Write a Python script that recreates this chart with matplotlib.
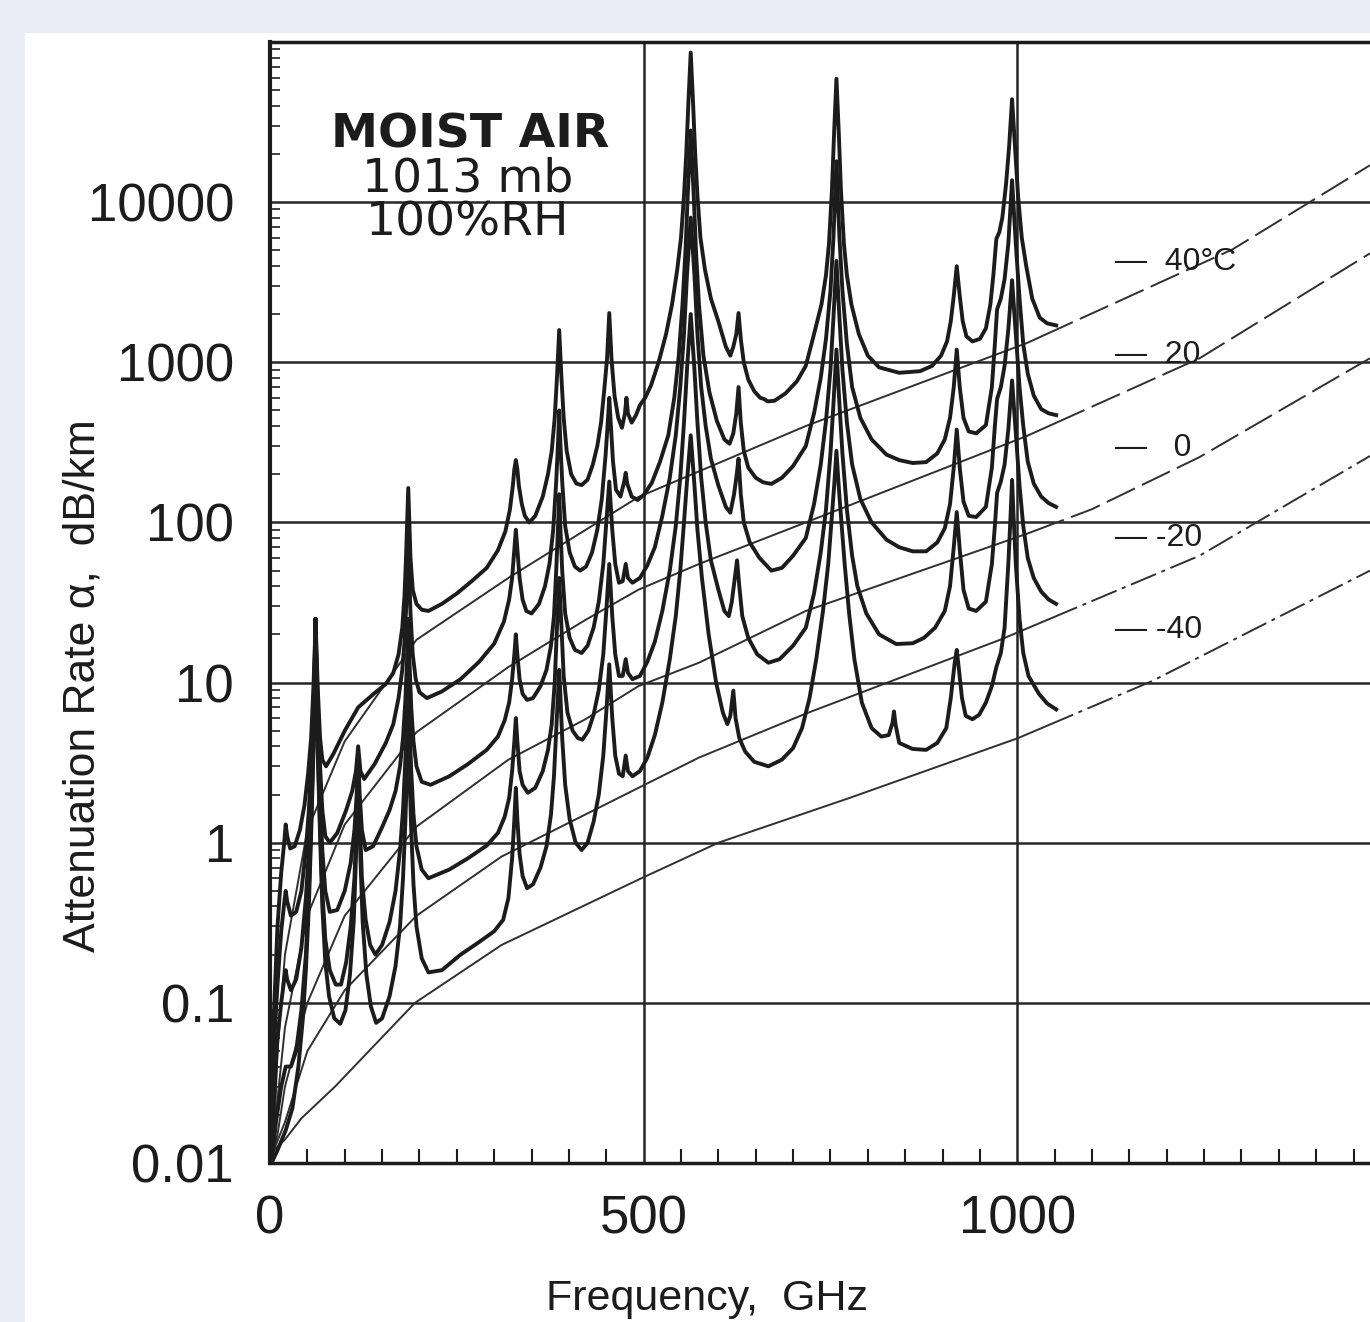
import matplotlib
matplotlib.use('Agg')
import matplotlib.pyplot as plt
from matplotlib.ticker import LogLocator, MultipleLocator, NullFormatter
from matplotlib.patches import Rectangle
from matplotlib.transforms import blended_transform_factory

# attenuation of moist air (1013 mb, 100% RH)
# resonance curves as (frequency GHz, attenuation dB/km)
res_40 = [(2, 0.012), (5, 0.08), (10, 0.3), (15, 0.65), (19, 1.0), (21, 1.3), (23, 1.1), (27, 0.92),
          (33, 0.95), (40, 1.2), (46, 1.7), (51, 2.7), (55, 4.5), (58, 9), (60, 17), (61, 25),
          (62, 17), (64, 9), (67, 4.5), (70, 3.3), (75, 3.0), (85, 3.6), (100, 5.0), (118, 7.0),
          (140, 8.6), (155, 9.8), (165, 11.5), (172, 15), (177, 22), (180, 35), (182, 60),
          (183.5, 100), (185, 164), (186.5, 100), (188, 60), (191, 38), (196, 31), (203, 28.5),
          (212, 28), (230, 31), (250, 36), (270, 43), (290, 52), (305, 67), (315, 88), (321, 120),
          (325, 170), (327, 215), (329, 245), (331, 215), (333, 170), (337, 130), (341, 110),
          (347, 100), (355, 110), (365, 145), (372, 200), (377, 280), (381, 450), (384, 800),
          (387, 1590), (390, 800), (393, 450), (397, 280), (403, 200), (410, 175), (417, 171),
          (425, 185), (432, 230), (438, 300), (443, 420), (447, 650), (451, 1050), (454, 2030),
          (457, 1050), (461, 620), (466, 450), (471, 390), (475, 480), (477, 600), (479, 480),
          (484, 420), (490, 470), (495, 540), (502, 600), (510, 720), (520, 1000), (530, 1500),
          (538, 2300), (545, 3800), (550, 6000), (554, 11000), (557, 20000), (560, 43000),
          (563, 86000), (566, 43000), (569, 20000), (572, 11000), (576, 6000), (582, 3800),
          (590, 2500), (600, 1800), (610, 1250), (616, 1100), (620, 1250), (624, 1500), (627, 2030),
          (630, 1400), (634, 1000), (640, 780), (648, 660), (656, 600), (661, 590), (666, 570),
          (675, 575), (690, 640), (705, 760), (717, 950), (728, 1500), (738, 2300), (744, 3500),
          (748, 5500), (752, 12000), (755, 28000), (758, 59000), (761, 28000), (764, 12000),
          (768, 5500), (772, 3500), (778, 2300), (788, 1500), (800, 1100), (815, 930), (842, 860),
          (870, 880), (886, 950), (898, 1100), (906, 1350), (911, 1800), (915, 2600), (919, 3980),
          (923, 2600), (927, 1800), (932, 1450), (940, 1350), (950, 1400), (958, 1630), (964, 2300),
          (968, 3500), (972, 5900), (976, 6500), (980, 8000), (985, 13000), (989, 22000),
          (993, 43900), (997, 22000), (1001, 11000), (1006, 6000), (1012, 3980), (1020, 2500),
          (1030, 1900), (1040, 1750), (1052, 1700)]

res_20 = [(2, 0.011), (5, 0.05), (10, 0.13), (15, 0.28), (19, 0.42), (21, 0.5), (23, 0.43), (28, 0.35),
          (35, 0.37), (42, 0.5), (48, 0.9), (52, 1.6), (55, 3), (58, 7), (60, 15), (61, 25),
          (62, 15), (64, 7), (67, 3), (70, 1.6), (74, 1.1), (80, 1.0), (90, 1.15), (102, 1.6),
          (110, 2.1), (115, 2.8), (118, 4.0), (121, 2.8), (126, 2.5), (140, 3.1), (155, 4.2),
          (165, 5.5), (172, 8), (177, 12), (180, 18), (182, 28), (183.5, 45), (185, 70),
          (186.5, 45), (188, 27), (191, 15), (195, 10.5), (200, 8.7), (210, 8.0), (230, 8.8),
          (255, 10.5), (280, 13.5), (300, 17.5), (313, 24), (320, 33), (324, 45), (327, 68),
          (329, 90), (331, 68), (334, 45), (338, 33), (343, 28), (350, 27), (360, 31), (368, 40),
          (374, 55), (379, 90), (383, 180), (385.5, 320), (387, 500), (388.5, 320), (391, 180),
          (395, 95), (401, 65), (408, 53), (415, 50), (423, 53), (431, 65), (438, 90), (444, 140),
          (449, 260), (452, 420), (454, 600), (456, 420), (459, 240), (463, 160), (469, 145),
          (474, 180), (476, 204), (478, 175), (484, 145), (492, 138), (500, 148), (511, 177),
          (522, 240), (533, 350), (541, 600), (547, 1100), (552, 2300), (556, 5000), (559, 11000),
          (563, 28000), (567, 11000), (570, 5000), (574, 2300), (580, 1100), (588, 650), (598, 430),
          (608, 330), (615, 310), (620, 360), (624, 480), (627, 700), (630, 420), (634, 280),
          (640, 220), (650, 190), (660, 178), (671, 174), (685, 190), (700, 225), (717, 300),
          (728, 480), (737, 800), (744, 1400), (750, 2800), (754, 6000), (758, 18000), (762, 6000),
          (766, 2800), (772, 1300), (779, 700), (790, 450), (805, 330), (825, 265), (842, 245),
          (860, 235), (878, 238), (893, 270), (903, 330), (910, 450), (915, 700), (919, 1200),
          (923, 700), (928, 450), (935, 370), (945, 360), (958, 405), (966, 700), (970, 1300),
          (973, 2140), (978, 2500), (983, 3300), (988, 5500), (993, 13700), (998, 5500),
          (1003, 2500), (1008, 1300), (1014, 850), (1022, 620), (1032, 510), (1042, 480),
          (1052, 468)]

res_0 = [(2, 0.01), (5, 0.025), (10, 0.06), (15, 0.1), (19, 0.14), (21, 0.16), (23, 0.14), (28, 0.12),
         (35, 0.14), (42, 0.22), (48, 0.45), (52, 0.9), (55, 2), (58, 5), (60, 13), (61, 25),
         (62, 13), (64, 5), (67, 2), (70, 0.9), (74, 0.5), (80, 0.37), (90, 0.38), (100, 0.5),
         (108, 0.75), (113, 1.2), (116, 2.0), (118, 3.4), (120, 2.0), (123, 1.2), (128, 0.9),
         (138, 0.95), (150, 1.25), (160, 1.6), (168, 2.1), (174, 3.0), (178, 4.5), (181, 7.5),
         (183.5, 14), (185, 25), (186.5, 14), (189, 7), (192, 4.3), (196, 3.0), (203, 2.4),
         (215, 2.3), (240, 2.6), (265, 3.1), (290, 3.8), (305, 4.6), (314, 5.8), (320, 7.5),
         (324, 10.5), (327, 15), (329, 20), (331, 15), (334, 10.5), (338, 8.5), (344, 7.8),
         (352, 8), (362, 9.5), (370, 12), (376, 17), (380, 26), (383, 50), (385.5, 95), (387, 150),
         (388.5, 95), (391, 50), (395, 27), (401, 19), (408, 16), (417, 15.3), (425, 17), (433, 22),
         (440, 32), (446, 55), (450, 100), (454, 180), (458, 90), (462, 55), (467, 42), (472, 43),
         (476, 55), (479, 45), (485, 42), (495, 45), (505, 54), (515, 70), (525, 110), (535, 190),
         (543, 350), (549, 700), (554, 1500), (558, 3500), (563, 8000), (568, 3500), (572, 1500),
         (577, 700), (583, 400), (590, 250), (600, 170), (610, 125), (616, 115), (621, 150),
         (624, 190), (627, 250), (630, 150), (634, 100), (642, 75), (655, 60), (671, 50), (685, 52),
         (700, 62), (717, 80), (728, 130), (737, 230), (744, 430), (750, 900), (754, 1900),
         (758, 4300), (762, 1900), (766, 900), (772, 420), (779, 230), (790, 140), (805, 100),
         (825, 78), (842, 70), (860, 66), (878, 66), (893, 75), (903, 92), (910, 130), (915, 220),
         (919, 380), (923, 220), (928, 135), (935, 110), (945, 108), (958, 125), (966, 220),
         (970, 400), (973, 590), (978, 700), (983, 950), (988, 1600), (993, 3250), (998, 1500),
         (1003, 700), (1008, 400), (1014, 240), (1022, 175), (1032, 145), (1042, 132), (1052, 125)]

res_m20 = [(2, 0.01), (8, 0.018), (15, 0.03), (21, 0.04), (28, 0.04), (35, 0.05), (42, 0.09),
           (48, 0.2), (52, 0.5), (55, 1.3), (58, 4), (60, 12), (61, 25), (62, 12), (64, 4),
           (67, 1.3), (70, 0.5), (74, 0.25), (80, 0.16), (88, 0.13), (95, 0.13), (102, 0.18),
           (108, 0.3), (113, 0.6), (116, 1.4), (118, 3.4), (120, 1.4), (123, 0.6), (128, 0.33),
           (134, 0.23), (141, 0.2), (150, 0.23), (160, 0.32), (168, 0.5), (174, 0.9), (178, 1.6),
           (181, 3.2), (183.5, 6), (185, 10), (186.5, 6), (189, 2.8), (192, 1.5), (196, 0.95),
           (203, 0.68), (212, 0.6), (240, 0.68), (265, 0.8), (290, 0.96), (305, 1.15), (314, 1.45),
           (320, 1.9), (324, 2.8), (327, 4.3), (329, 6), (331, 4.3), (334, 2.8), (338, 2.3),
           (345, 2.05), (355, 2.2), (365, 2.8), (372, 3.8), (377, 5.5), (381, 10), (384, 22),
           (387, 45), (390, 22), (393, 11), (398, 6.5), (405, 5), (412, 4.5), (418, 4.4), (426, 5),
           (433, 6.3), (440, 9), (446, 15), (450, 28), (454, 55), (458, 26), (462, 15), (467, 11),
           (472, 11), (476, 14), (479, 11.5), (485, 10.5), (495, 11), (505, 13.5), (515, 18),
           (525, 28), (535, 50), (543, 95), (549, 190), (554, 420), (558, 900), (563, 2000),
           (568, 900), (572, 420), (577, 190), (583, 100), (590, 58), (600, 38), (608, 28),
           (614, 26), (618, 32), (622, 45), (625, 58), (628, 40), (632, 26), (640, 19), (652, 15),
           (667, 13.3), (682, 14), (700, 17), (717, 22), (728, 36), (737, 65), (744, 120),
           (750, 270), (754, 550), (758, 1200), (762, 550), (766, 270), (772, 120), (779, 62),
           (786, 40), (798, 27), (815, 20), (838, 17.4), (860, 17.6), (875, 19), (890, 22),
           (903, 28), (910, 40), (915, 70), (919, 116), (923, 68), (928, 38), (935, 29), (945, 28),
           (958, 32), (966, 55), (970, 95), (973, 153), (978, 180), (983, 230), (988, 380),
           (993, 770), (998, 360), (1003, 170), (1008, 95), (1014, 60), (1022, 45), (1032, 37),
           (1042, 33), (1052, 31)]

res_m40 = [(2, 0.01), (10, 0.012), (21, 0.016), (30, 0.022), (38, 0.04), (44, 0.08), (48, 0.16),
           (52, 0.4), (55, 1.1), (58, 3.5), (60, 11), (61, 25), (62, 11), (64, 3.5), (67, 1.1),
           (70, 0.4), (74, 0.18), (79, 0.11), (86, 0.08), (94, 0.074), (101, 0.09), (107, 0.15),
           (112, 0.32), (115, 0.8), (118, 3.4), (121, 0.8), (124, 0.32), (129, 0.15), (135, 0.095),
           (142, 0.075), (150, 0.08), (160, 0.11), (168, 0.17), (174, 0.3), (178, 0.6), (181, 1.3),
           (183.5, 3), (185, 6), (186.5, 3), (189, 1.2), (192, 0.55), (196, 0.3), (203, 0.19),
           (212, 0.155), (230, 0.16), (255, 0.2), (280, 0.24), (300, 0.28), (312, 0.33),
           (319, 0.45), (324, 0.8), (327, 1.4), (329, 2.2), (331, 1.4), (334, 0.85), (338, 0.62),
           (344, 0.52), (352, 0.55), (362, 0.7), (370, 0.95), (376, 1.5), (380, 2.6), (383, 5),
           (385.5, 8.5), (387, 12), (388.5, 8.5), (391, 4.5), (395, 2.3), (401, 1.4), (409, 1.0),
           (417, 0.9), (425, 1.0), (433, 1.35), (440, 2.0), (446, 3.5), (450, 6.5), (454, 13),
           (458, 6), (462, 3.5), (467, 2.7), (472, 2.6), (476, 3.5), (479, 2.8), (485, 2.6),
           (495, 2.8), (505, 3.4), (515, 4.7), (525, 7.5), (535, 14), (543, 26), (549, 50),
           (554, 100), (558, 180), (563, 350), (568, 170), (572, 90), (578, 45), (587, 20),
           (597, 10), (606, 6.5), (612, 5.5), (616, 6.2), (620, 8.9), (623, 6), (628, 4.5),
           (636, 3.7), (648, 3.2), (667, 3.0), (685, 3.3), (700, 3.9), (712, 5.2), (722, 8),
           (731, 14), (740, 28), (747, 55), (752, 110), (755, 170), (758, 280), (761, 170),
           (764, 110), (769, 55), (775, 27), (782, 14), (792, 7.5), (805, 5.2), (818, 4.6),
           (828, 4.7), (833, 5.6), (835, 6.6), (837, 5.5), (842, 4.2), (860, 3.85), (878, 3.8),
           (893, 4.2), (905, 5.2), (911, 8), (916, 13), (919, 16), (922, 12), (926, 8), (931, 6.2),
           (940, 5.9), (949, 6.3), (958, 7.5), (966, 9.5), (972, 12.5), (978, 15.3), (983, 22),
           (988, 55), (991, 110), (993, 184), (995, 110), (998, 55), (1003, 25), (1008, 15.3),
           (1015, 11), (1029, 8.5), (1040, 7.4), (1052, 6.8)]

# smooth (continuum) curves, one per temperature
cont_40 = [(5, 0.012), (10, 0.05), (20, 0.2), (50, 1.2), (100, 4.3), (196, 18.5), (322, 46),
           (493, 144), (717, 400), (1013, 1320), (1154, 2630), (1288, 5070), (1472, 17000)]
cont_20 = [(5, 0.012), (10, 0.025), (20, 0.07), (50, 0.35), (100, 1.3), (196, 4.9), (319, 12.5),
           (422, 24.6), (493, 38), (574, 55), (717, 100), (1013, 347), (1244, 1060), (1472, 4790)]
cont_0 = [(5, 0.012), (10, 0.015), (20, 0.03), (50, 0.1), (100, 0.35), (196, 1.26), (319, 3.3),
          (422, 5.9), (493, 9.5), (574, 13.3), (717, 28), (1013, 85), (1100, 121), (1244, 256),
          (1472, 1060)]
cont_m20 = [(5, 0.012), (20, 0.018), (50, 0.05), (100, 0.12), (196, 0.35), (310, 0.82), (493, 2.2),
            (574, 3.4), (717, 6.4), (977, 18.5), (1244, 62), (1472, 260)]
cont_m40 = [(5, 0.012), (20, 0.014), (42, 0.019), (87, 0.03), (194, 0.1), (310, 0.23), (497, 0.6),
            (600, 1.0), (775, 1.9), (1001, 4.5), (1180, 10.2), (1472, 50)]

temps = ['40°C', '20', '0', '-20', '-40']
y_ticks = [0.01, 0.1, 1, 10, 100, 1000, 10000]
y_tick_labels = ['0.01', '0.1', '1', '10', '100', '1000', '10000']
x_ticks = [0, 500, 1000]

plt.rcParams['font.family'] = ['Liberation Sans', 'DejaVu Sans']
ink = '#1c1c1c'

fig = plt.figure(figsize=(13.7, 13.22), dpi=100, facecolor='#ececf8')
fig.patches.append(Rectangle((25/1370, 0), 1, 1 - 33/1322, transform=fig.transFigure,
                             facecolor='white', edgecolor='none', zorder=-10))
ax = fig.add_axes([270/1370, 1 - 1163/1322, 1100/1370, 1121/1322])
ax.set_zorder(1)
ax.set_yscale('log')
ax.set_xlim(0, 1472)
ax.set_ylim(0.01, 1e5)

# continuum lines: solid where they run under the resonance curves, broken beyond
trans = blended_transform_factory(ax.transData, ax.transAxes)
split = 1058
conts = [cont_40, cont_20, cont_0, cont_m20, cont_m40]
dash_styles = [(16, 4), (16, 4), (16, 4), (14, 3, 2, 3), (14, 3, 2, 3)]
for c, ds in zip(conts, dash_styles):
    f, a = zip(*c)
    solid, = ax.plot(f, a, color='#303030', lw=1.4, zorder=3)
    solid.set_clip_path(Rectangle((0, 0), split, 1, transform=trans))
    broken, = ax.plot(f, a, color='#303030', lw=1.4, dashes=ds, zorder=3)
    broken.set_clip_path(Rectangle((split, 0), 1472 - split, 1, transform=trans))

for c in [res_40, res_20, res_0, res_m20, res_m40]:
    f, a = zip(*c)
    ax.plot(f, a, color=ink, lw=2.8, zorder=4, solid_joinstyle='round')

ax.set_yticks(y_ticks)
ax.set_yticklabels(y_tick_labels)
ax.yaxis.set_minor_locator(LogLocator(base=10, subs=(2, 3, 4, 5, 6, 7, 8, 9), numticks=20))
ax.yaxis.set_minor_formatter(NullFormatter())
ax.set_xticks(x_ticks)
ax.set_xticklabels([str(x) for x in x_ticks])
ax.xaxis.set_minor_locator(MultipleLocator(50))

ax.tick_params(axis='y', which='major', length=0, pad=26, labelsize=38, colors=ink)
ax.tick_params(axis='y', which='minor', direction='in', length=7, width=1.2, color=ink)
ax.tick_params(axis='x', which='major', length=0, pad=23, labelsize=38, colors=ink)
ax.tick_params(axis='x', which='minor', direction='in', length=10, width=1.5, color=ink)

ax.grid(True, which='major', color='#262626', lw=1.8, zorder=1)
ax.set_axisbelow(True)
ax.spines['right'].set_visible(False)
ax.spines['left'].set_linewidth(3)
ax.spines['bottom'].set_linewidth(2.5)
ax.spines['top'].set_linewidth(2.5)
for s in ['left', 'bottom', 'top']:
    ax.spines[s].set_color(ink)

fig.text(83/1370, 1 - 686/1322, 'Attenuation Rate α,  dB/km', rotation=90,
         ha='center', va='center', fontsize=32, color=ink)
fig.text(707/1370, 1 - 1310/1322, 'Frequency,  GHz', ha='center', va='baseline',
         fontsize=31, color=ink)

fig.text(470/1370, 1 - 135/1322, 'MOIST AIR', ha='center', va='center',
         fontsize=34, fontweight='bold', color=ink, family='DejaVu Sans')
fig.text(468/1370, 1 - 201/1322, '1013 mb\n100%RH', ha='center', va='center',
         fontsize=34, color=ink, family='DejaVu Sans', linespacing=1.0)

legend_text = ['—  ' + temps[0], '—  ' + temps[1], '—   ' + temps[2],
               '— ' + temps[3], '— ' + temps[4]]
legend_y = [262, 355, 448, 538, 630]
for t, y in zip(legend_text, legend_y):
    fig.text(1115/1370, 1 - y/1322, t, ha='left', va='center', fontsize=23, color=ink)

fig.savefig('out.png', dpi=100, facecolor=fig.get_facecolor())
